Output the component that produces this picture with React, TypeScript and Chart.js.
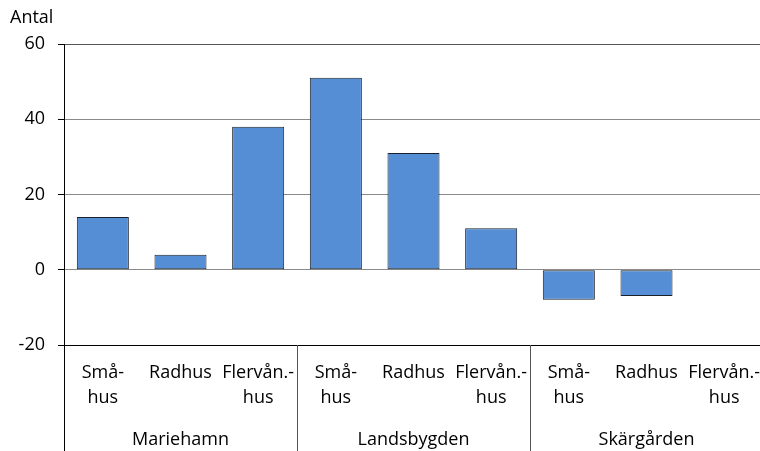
import React, { useEffect, useRef } from "react";
import { Chart, registerables } from "chart.js";

Chart.register(...registerables);

const categories: string[][] = [
  ["Små-", "hus"], ["Radhus"], ["Flervån.-", "hus"],
  ["Små-", "hus"], ["Radhus"], ["Flervån.-", "hus"],
  ["Små-", "hus"], ["Radhus"], ["Flervån.-", "hus"],
];
const groups: string[] = ["Mariehamn", "Landsbygden", "Skärgården"];
const values: number[] = [14, 4, 38, 51, 31, 11, -8, -7, 0];
const yMin = -20;
const yMax = 60;
const yStep = 20;
const yTitle = "Antal";

const FONT = "'Open Sans', 'Noto Sans', sans-serif";

const overlay = {
  id: "overlay",
  afterDraw(chart: any) {
    const ctx = chart.ctx;
    const x = chart.scales.x;
    const area = chart.chartArea;
    const bottom = chart.height;
    ctx.save();
    // y title
    ctx.fillStyle = "#000";
    ctx.font = `18px ${FONT}`;
    ctx.textAlign = "left";
    ctx.textBaseline = "middle";
    ctx.fillText(yTitle, 10, 18);
    // left axis extension
    ctx.strokeStyle = "#000";
    ctx.lineWidth = 1;
    ctx.beginPath();
    ctx.moveTo(Math.round(area.left) + 0.5, area.bottom);
    ctx.lineTo(Math.round(area.left) + 0.5, bottom);
    ctx.stroke();
    // group separators and labels
    const per = categories.length / groups.length;
    ctx.strokeStyle = "#555";
    for (let g = 0; g < groups.length; g++) {
      const first = x.getPixelForValue(g * per);
      const last = x.getPixelForValue(g * per + per - 1);
      const half = (x.getPixelForValue(1) - x.getPixelForValue(0)) / 2;
      const end = last + half;
      if (g < groups.length - 1) {
        ctx.beginPath();
        ctx.moveTo(Math.round(end) + 0.5, area.bottom);
        ctx.lineTo(Math.round(end) + 0.5, bottom);
        ctx.stroke();
      }
      ctx.fillStyle = "#000";
      ctx.textAlign = "center";
      ctx.fillText(groups[g], (first + last) / 2, 440);
    }
    ctx.restore();
  },
};

export default function App() {
  const ref = useRef<HTMLCanvasElement | null>(null);
  useEffect(() => {
    document.body.style.margin = "0";
    document.body.style.overflow = "hidden";
    const chart = new Chart(ref.current!, {
      type: "bar",
      data: {
        labels: categories,
        datasets: [
          {
            data: values,
            backgroundColor: "#558ED5",
            borderColor: "#1a2029",
            borderWidth: 1,
            borderSkipped: false,
            barPercentage: 0.67,
            categoryPercentage: 1,
          },
        ],
      },
      options: {
        animation: false,
        responsive: false,
        layout: { padding: { top: 44, right: 2, left: 0, bottom: 0 } },
        plugins: { legend: { display: false }, tooltip: { enabled: false } },
        scales: {
          x: {
            grid: { display: false, drawTicks: false },
            border: { display: true, color: "#000", width: 1 },
            ticks: {
              color: "#000",
              font: { family: FONT, size: 18, lineHeight: 25 / 18 },
              padding: 15,
              maxRotation: 0,
              autoSkip: false,
            },
            afterFit(scale: any) {
              scale.height = 106;
              scale.paddingLeft = 0;
              scale.paddingRight = 0;
            },
          },
          y: {
            min: yMin,
            max: yMax,
            grid: {
              color: (c: any) =>
                c.tick && c.tick.value === yMax ? "#555" : c.tick && c.tick.value === yMin ? "#000" : "#8a8a8a",
              tickColor: "#000",
              tickLength: 6,
            },
            border: { display: true, color: "#000", width: 1 },
            ticks: {
              stepSize: yStep,
              color: "#000",
              font: { family: FONT, size: 18 },
              padding: 13,
            },
            afterFit(scale: any) {
              scale.width = 64;
            },
          },
        },
      },
      plugins: [overlay],
    });
    return () => chart.destroy();
  }, []);
  return (
    <div style={{ width: 760, height: 451, overflow: "hidden", position: "relative" }}>
      <canvas ref={ref} width={765} height={451} style={{ display: "block" }} />
    </div>
  );
}
